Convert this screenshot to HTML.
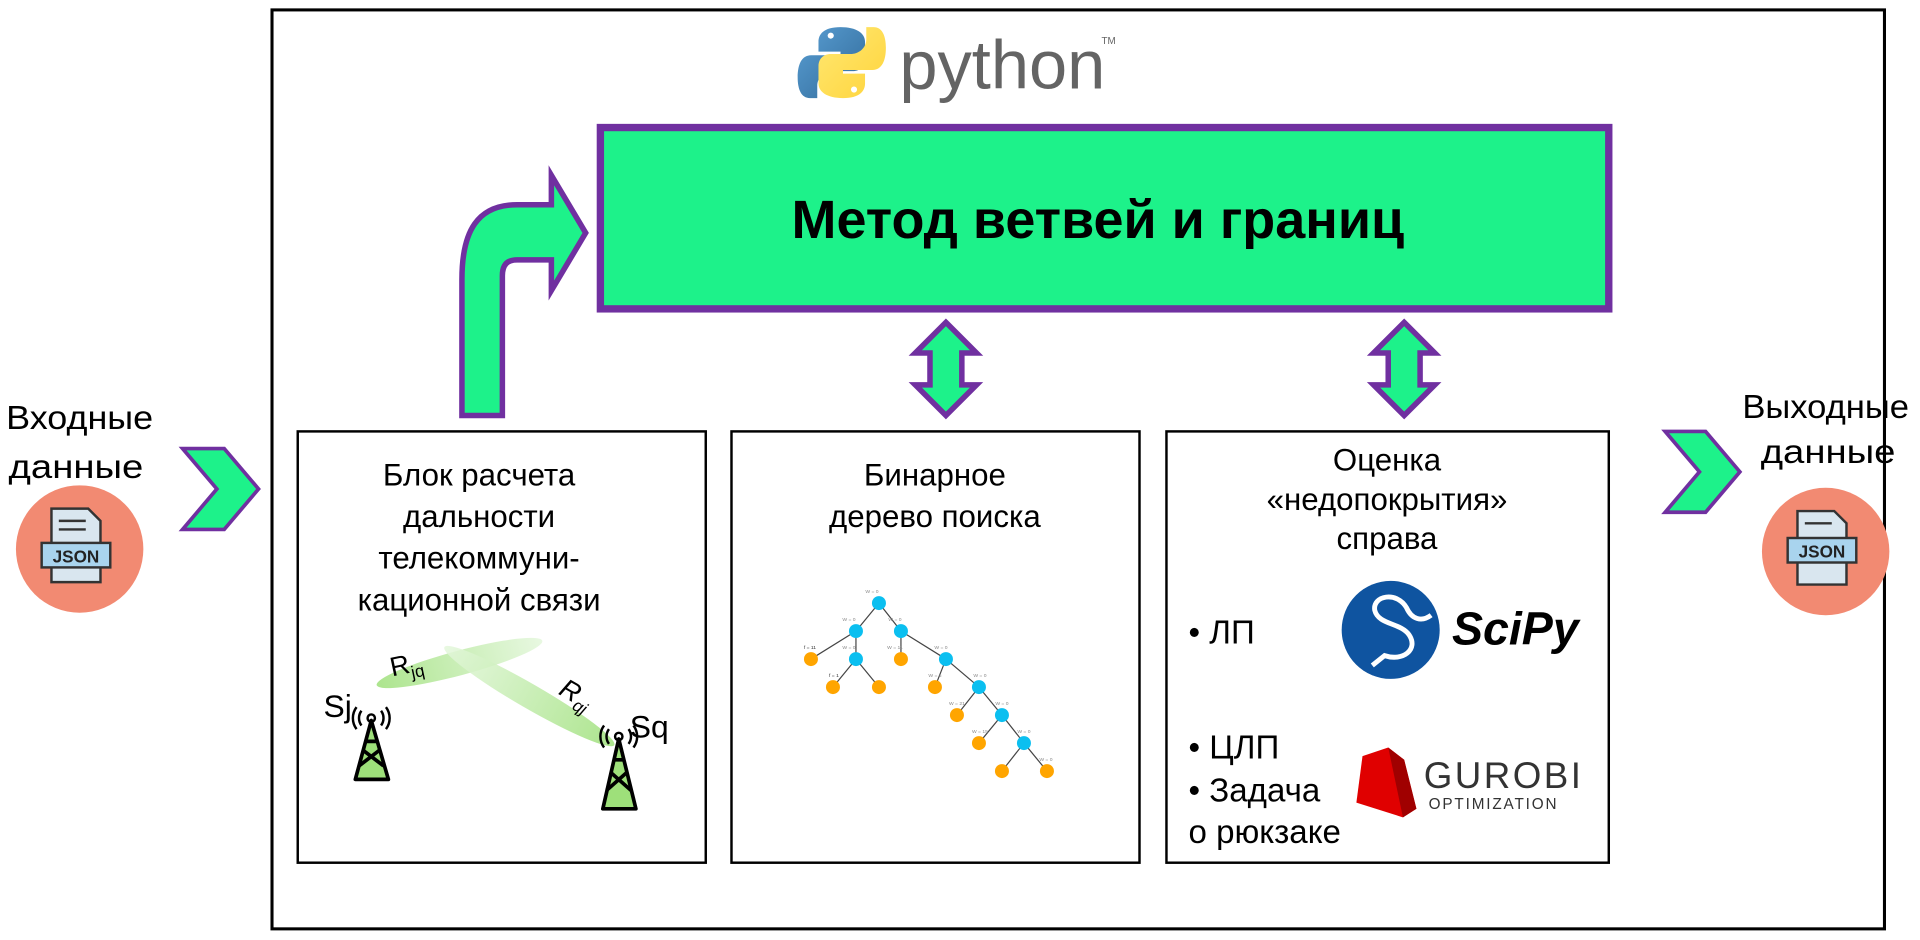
<!DOCTYPE html>
<html><head><meta charset="utf-8"><style>
html,body{margin:0;padding:0;background:#fff;}
svg{display:block;}
text{font-family:"Liberation Sans",sans-serif;}
</style></head><body>
<svg width="1920" height="940" viewBox="0 0 1567 767" xmlns="http://www.w3.org/2000/svg">
<defs>
<linearGradient id="py1" x1="0" y1="0" x2="1" y2="1"><stop offset="0" stop-color="#5a9fd4"/><stop offset="1" stop-color="#306998"/></linearGradient>
<linearGradient id="py2" x1="0" y1="0" x2="1" y2="1"><stop offset="0" stop-color="#ffe873"/><stop offset="1" stop-color="#ffd43b"/></linearGradient>
<linearGradient id="beam" x1="0" y1="0" x2="1" y2="0"><stop offset="0" stop-color="#9ee07a"/><stop offset="1" stop-color="#e4f7dc"/></linearGradient>
<linearGradient id="beam2" x1="0" y1="0" x2="1" y2="0"><stop offset="0" stop-color="#e4f7dc"/><stop offset="1" stop-color="#9ee07a"/></linearGradient>
</defs>
<rect x="222" y="8" width="1316" height="750" fill="none" stroke="#000" stroke-width="2.5"/>
<g>
<path d="M686 22 c-14 0 -18 6 -18 12 v8 h18 v3 h-24 c-8 0 -11 8 -11 18 c0 10 3 17 10 17 h6 v-10 c0 -7 6 -12 13 -12 h16 c6 0 10 -4 10 -10 v-14 c0 -7 -7 -12 -20 -12z" fill="url(#py1)"/>
<path d="M688 80 c14 0 18 -6 18 -12 v-8 h-18 v-3 h24 c8 0 11 -8 11 -18 c0 -10 -3 -17 -10 -17 h-6 v10 c0 7 -6 12 -13 12 h-16 c-6 0 -10 4 -10 10 v14 c0 7 7 12 20 12z" fill="url(#py2)"/>
<circle cx="678" cy="29" r="2.5" fill="#fff"/><circle cx="697" cy="73" r="2.5" fill="#fff"/>
<text x="734" y="72" font-size="56" fill="#646464">python</text>
<text x="899" y="36" font-size="8" fill="#646464">TM</text>
</g>
<rect x="490" y="104" width="823" height="148" fill="#1df28a" stroke="#7030a0" stroke-width="6"/>
<text x="896" y="194" font-size="44" font-weight="bold" text-anchor="middle" textLength="500" lengthAdjust="spacingAndGlyphs">Метод ветвей и границ</text>
<path d="M377 339 V228 C377 188 390 167 422 167 H450 V143 L478 190 L450 237 V212 H422 C414 212 410 216 410 225 V339 Z" fill="#1df28a" stroke="#7030a0" stroke-width="4.5"/>
<path d="M772 263 L797 288 H785 V314 H797 L772 339 L747 314 H759 V288 H747 Z" fill="#1df28a" stroke="#7030a0" stroke-width="4.5"/>
<path d="M1146 263 L1171 288 H1159 V314 H1171 L1146 339 L1121 314 H1133 V288 H1121 Z" fill="#1df28a" stroke="#7030a0" stroke-width="4.5"/>
<path d="M149 366 H183 L211 399 L183 432 H149 L177 399 Z" fill="#1df28a" stroke="#7030a0" stroke-width="3"/>
<path d="M1359 352 H1392 L1420 385 L1392 418 H1359 L1387 385 Z" fill="#1df28a" stroke="#7030a0" stroke-width="3"/>
<rect x="243" y="352" width="333" height="352" fill="#fff" stroke="#000" stroke-width="2"/>
<rect x="597" y="352" width="333" height="352" fill="#fff" stroke="#000" stroke-width="2"/>
<rect x="952" y="352" width="361" height="352" fill="#fff" stroke="#000" stroke-width="2"/>
<g font-size="25.5" text-anchor="middle">
<text x="391" y="396">Блок расчета</text>
<text x="391" y="430">дальности</text>
<text x="391" y="464">телекоммуни-</text>
<text x="391" y="498">кационной связи</text>
<text x="763" y="396">Бинарное</text>
<text x="763" y="430">дерево поиска</text>
<text x="1132" y="384">Оценка</text>
<text x="1132" y="416">«недопокрытия»</text>
<text x="1132" y="448">справа</text>
</g>
<g font-size="27" text-anchor="middle">
<text x="65" y="350" textLength="120" lengthAdjust="spacingAndGlyphs">Входные</text><text x="62" y="390" textLength="110" lengthAdjust="spacingAndGlyphs">данные</text>
<text x="1490" y="341" textLength="136" lengthAdjust="spacingAndGlyphs">Выходные</text><text x="1492" y="378" textLength="110" lengthAdjust="spacingAndGlyphs">данные</text>
</g>
<circle cx="65" cy="448" r="52" fill="#f28a72"/>
<circle cx="1490" cy="450" r="52" fill="#f28a72"/>
<g>
<path d="M42 415 h30 l10 10 v50 h-40z" fill="#d9e6ef" stroke="#333" stroke-width="2"/>
<rect x="34" y="443" width="56" height="20" fill="#a9d4ee" stroke="#333" stroke-width="2"/>
<text x="62" y="459" font-size="14" font-weight="bold" text-anchor="middle" fill="#222">JSON</text>
<line x1="48" y1="425" x2="70" y2="425" stroke="#333" stroke-width="2"/><line x1="48" y1="432" x2="70" y2="432" stroke="#333" stroke-width="2"/>
</g>
<g transform="translate(1425,2)">
<path d="M42 415 h30 l10 10 v50 h-40z" fill="#d9e6ef" stroke="#333" stroke-width="2"/>
<rect x="34" y="437" width="56" height="20" fill="#a9d4ee" stroke="#333" stroke-width="2"/>
<text x="62" y="453" font-size="14" font-weight="bold" text-anchor="middle" fill="#222">JSON</text>
<line x1="48" y1="425" x2="70" y2="425" stroke="#333" stroke-width="2"/>
</g>
<ellipse cx="375" cy="541" rx="70" ry="10" transform="rotate(-15 375 541)" fill="url(#beam)" opacity="0.85"/>
<ellipse cx="432" cy="568" rx="80" ry="10" transform="rotate(30 432 568)" fill="url(#beam2)" opacity="0.85"/>
<text x="320" y="552" font-size="22" transform="rotate(-12 320 552)">R<tspan font-size="14" dy="5">jq</tspan></text>
<text x="455" y="566" font-size="22" font-style="italic" transform="rotate(30 455 566)">R<tspan font-size="14" dy="5">qj</tspan></text>
<text x="264" y="585" font-size="26">Sj</text>
<text x="514" y="602" font-size="26">Sq</text>
<g stroke="#000" stroke-width="3" fill="#9ee07a" stroke-linejoin="round">
<path d="M303 588 L290 636 H317 Z"/><path d="M296 612 L313 625 M310 612 L293 625 M298 605 H308" fill="none"/>
<path d="M505 603 L492 660 H519 Z"/><path d="M498 630 L515 645 M512 630 L495 645 M500 620 H510" fill="none"/>
</g>
<g fill="none" stroke="#000" stroke-width="2">
<circle cx="303" cy="586" r="3"/><path d="M295 580 a10 10 0 0 0 0 12 M311 580 a10 10 0 0 1 0 12 M291 577 a15 15 0 0 0 0 18 M315 577 a15 15 0 0 1 0 18"/>
<circle cx="505" cy="601" r="3"/><path d="M497 595 a10 10 0 0 0 0 12 M513 595 a10 10 0 0 1 0 12 M493 592 a15 15 0 0 0 0 18 M517 592 a15 15 0 0 1 0 18"/>
</g>
<g transform="scale(0.8161)">
<g stroke="#444" stroke-width="1.2">
<line x1="879" y1="603" x2="856" y2="631"/><line x1="879" y1="603" x2="901" y2="631"/>
<line x1="856" y1="631" x2="811" y2="659"/><line x1="856" y1="631" x2="856" y2="659"/>
<line x1="901" y1="631" x2="901" y2="659"/><line x1="901" y1="631" x2="946" y2="659"/>
<line x1="856" y1="659" x2="833" y2="687"/><line x1="856" y1="659" x2="879" y2="687"/>
<line x1="946" y1="659" x2="935" y2="687"/><line x1="946" y1="659" x2="979" y2="687"/>
<line x1="979" y1="687" x2="957" y2="715"/><line x1="979" y1="687" x2="1002" y2="715"/>
<line x1="1002" y1="715" x2="979" y2="743"/><line x1="1002" y1="715" x2="1024" y2="743"/>
<line x1="1024" y1="743" x2="1002" y2="771"/><line x1="1024" y1="743" x2="1047" y2="771"/>
</g>
<g fill="#0bbff0"><circle cx="879" cy="603" r="7"/><circle cx="856" cy="631" r="7"/><circle cx="901" cy="631" r="7"/><circle cx="856" cy="659" r="7"/><circle cx="946" cy="659" r="7"/><circle cx="979" cy="687" r="7"/><circle cx="1002" cy="715" r="7"/><circle cx="1024" cy="743" r="7"/></g>
<g fill="#ffa500"><circle cx="811" cy="659" r="7"/><circle cx="901" cy="659" r="7"/><circle cx="833" cy="687" r="7"/><circle cx="879" cy="687" r="7"/><circle cx="935" cy="687" r="7"/><circle cx="957" cy="715" r="7"/><circle cx="979" cy="743" r="7"/><circle cx="1002" cy="771" r="7"/><circle cx="1047" cy="771" r="7"/></g>
<g font-size="5" fill="#888" text-anchor="middle">
<text x="872" y="593">W = 0</text><text x="849" y="621">W = 0</text><text x="895" y="621">W = 0</text>
<text x="849" y="649">W = 0</text><text x="895" y="649">W = 11</text><text x="941" y="649">W = 0</text>
<text x="935" y="677">W = 5</text><text x="980" y="677">W = 0</text><text x="957" y="705">W = 21</text><text x="1002" y="705">W = 0</text>
<text x="980" y="733">W = 15</text><text x="1024" y="733">W = 0</text><text x="1046" y="761">W = 0</text>
<text x="810" y="649" fill="#333">f = 11</text><text x="834" y="677" fill="#333">f = 1</text>
</g>
</g>
<g font-size="27">
<text x="970" y="525">• ЛП</text>
<text x="970" y="619">• ЦЛП</text>
<text x="970" y="654">• Задача</text>
<text x="970" y="688">о рюкзаке</text>
</g>
<circle cx="1135" cy="514" r="40" fill="#0f54a0"/>
<path d="M1120 543 L1130 535 C1145 540 1158 530 1150 518 C1143 508 1125 510 1122 498 C1120 486 1140 482 1148 496 C1152 505 1160 508 1168 502" fill="none" stroke="#fff" stroke-width="4"/>
<text x="1185" y="526" font-size="38" font-weight="bold" font-style="italic">SciPy</text>
<path d="M1112 617 L1133 610 L1146 620 L1156 660 L1145 667 L1107 655 Z" fill="#e00000"/>
<path d="M1133 610 L1146 620 L1156 660 L1145 667 Z" fill="#a00000"/>
<text x="1162" y="643" font-size="30" fill="#333" letter-spacing="2">GUROBI</text>
<text x="1166" y="660" font-size="12.5" fill="#333" letter-spacing="1.5">OPTIMIZATION</text>
</svg>
</body></html>
